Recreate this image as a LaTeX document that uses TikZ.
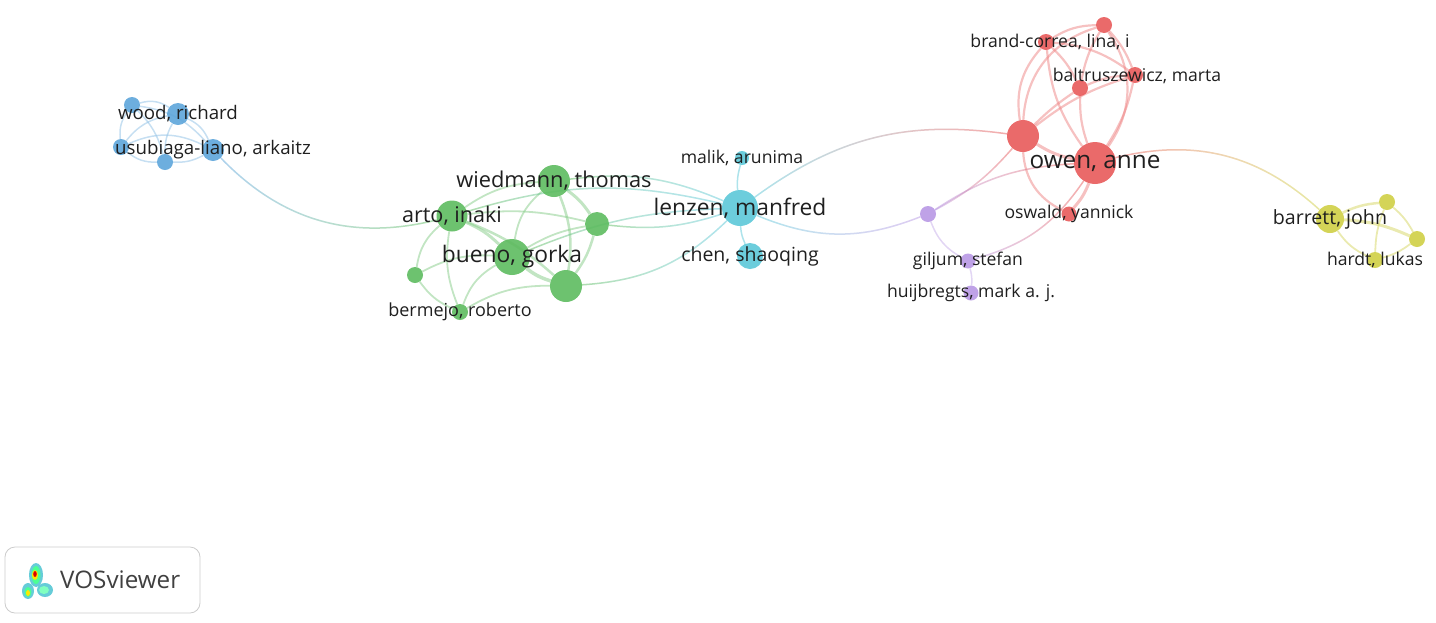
\documentclass[tikz,border=0pt]{standalone}
\usepackage{fontspec}
\setmainfont{Open Sans}
\usetikzlibrary{positioning,backgrounds,fadings}

\definecolor{cblue}{HTML}{5DA5DA}
\definecolor{cgreen}{HTML}{5DBB5F}
\definecolor{ccyan}{HTML}{5CC8D8}
\definecolor{cred}{HTML}{E85A5A}
\definecolor{cpurple}{HTML}{B898E4}
\definecolor{cyellow}{HTML}{CFCF45}

\tikzset{
  author/.style={circle, inner sep=0pt, fill opacity=0.9, draw=none},
  blueauth/.style={author, fill=cblue},
  greenauth/.style={author, fill=cgreen},
  cyanauth/.style={author, fill=ccyan},
  redauth/.style={author, fill=cred},
  purpleauth/.style={author, fill=cpurple},
  yellowauth/.style={author, fill=cyellow},
  lbl/.style={inner sep=0pt, text=black!88, font=\fontsize{17.6}{17.6}\selectfont},
  lblbig/.style={lbl, font=\fontsize{22.8}{22.8}\selectfont},
  link/.style={line width=1.5pt, opacity=0.5},
  bluelink/.style={link, draw=cblue!70},
  greenlink/.style={link, line width=1.8pt, draw=cgreen!75},
  redlink/.style={link, line width=2.2pt, draw=cred!75},
  purplelink/.style={link, draw=cpurple!80},
  yellowlink/.style={link, line width=1.8pt, draw=cyellow!85}
}

% link between two clusters: left colour fades into right colour
\newcommand{\mixlink}[5]{%
  \draw[link, draw=#4, path fading=east] (#1) to[#3] (#2);
  \draw[link, draw=#5, path fading=west] (#1) to[#3] (#2);}

\begin{document}
\begin{tikzpicture}[x=1pt, y=-1pt]
  \useasboundingbox (0,0) rectangle (1436,622);

  % Blue cluster
  \node[blueauth, minimum size=16] (b1) at (132,105) {};
  \node[blueauth, minimum size=22] (wood) at (178,114) {};
  \node[blueauth, minimum size=16] (b3) at (121,147) {};
  \node[blueauth, minimum size=16] (b4) at (165,162) {};
  \node[blueauth, minimum size=22] (usub) at (213,150) {};

  % Green cluster
  \node[greenauth, minimum size=31] (arto) at (452,216) {};
  \node[greenauth, minimum size=32] (wied) at (554,181) {};
  \node[greenauth, minimum size=24] (g3) at (597,224) {};
  \node[greenauth, minimum size=36] (bueno) at (512,257) {};
  \node[greenauth, minimum size=16] (g5) at (415,275) {};
  \node[greenauth, minimum size=32] (g6) at (566,286) {};
  \node[greenauth, minimum size=16] (berm) at (460,312) {};

  % Cyan cluster
  \node[cyanauth, minimum size=14] (malik) at (742,158) {};
  \node[cyanauth, minimum size=36] (lenzen) at (740,208) {};
  \node[cyanauth, minimum size=26] (chen) at (750,256) {};

  % Red cluster
  \node[redauth, minimum size=16] (r1) at (1104,25) {};
  \node[redauth, minimum size=16] (brand) at (1046,42) {};
  \node[redauth, minimum size=16] (balt) at (1135,75) {};
  \node[redauth, minimum size=16] (r4) at (1080,88) {};
  \node[redauth, minimum size=32] (r5) at (1023,136) {};
  \node[redauth, minimum size=42] (owen) at (1095,163) {};
  \node[redauth, minimum size=15] (oswald) at (1069,214) {};

  % Purple cluster
  \node[purpleauth, minimum size=16] (p1) at (928,214) {};
  \node[purpleauth, minimum size=15] (giljum) at (968,261) {};
  \node[purpleauth, minimum size=15] (huij) at (971,293) {};

  % Yellow cluster
  \node[yellowauth, minimum size=28] (barrett) at (1330,219) {};
  \node[yellowauth, minimum size=16] (y2) at (1387,202) {};
  \node[yellowauth, minimum size=16] (y3) at (1417,239) {};
  \node[yellowauth, minimum size=16] (hardt) at (1375,260) {};

  \begin{scope}[on background layer]
    % Blue links
    \draw[bluelink] (b1) to[bend left=25] (wood);
    \draw[bluelink] (b1) to[bend right=20] (b3);
    \draw[bluelink] (b1) to[bend left=20] (usub);
    \draw[bluelink] (b1) to[bend left=15] (b4);
    \draw[bluelink] (wood) to[bend right=20] (b3);
    \draw[bluelink] (wood) to[bend right=15] (b4);
    \draw[bluelink] (wood) to[bend left=20] (usub);
    \draw[bluelink] (b3) to[bend right=20] (b4);
    \draw[bluelink] (b3) to[bend left=25] (usub);
    \draw[bluelink] (b4) to[bend right=15] (usub);
    \mixlink{usub}{arto}{bend right=30}{cblue}{cgreen}

    % Green links
    \draw[greenlink] (arto) to[bend left=15] (wied);
    \draw[greenlink, line width=3pt] (arto) to[bend left=10] (bueno);
    \draw[greenlink] (arto) to[bend left=10] (g3);
    \draw[greenlink, line width=2.5pt] (arto) to[bend left=10] (g6);
    \draw[greenlink] (arto) to[bend right=20] (g5);
    \draw[greenlink] (arto) to[bend right=15] (berm);
    \draw[greenlink] (wied) to[bend right=20] (bueno);
    \draw[greenlink, line width=3pt] (wied) to[bend left=10] (g3);
    \draw[greenlink, line width=2.5pt] (wied) to[bend left=15] (g6);
    \draw[greenlink] (bueno) to[bend left=10] (g3);
    \draw[greenlink, line width=3.5pt] (bueno) to[bend right=10] (g6);
    \draw[greenlink] (bueno) to[bend right=15] (g5);
    \draw[greenlink] (bueno) to[bend right=20] (berm);
    \draw[greenlink, line width=2.5pt] (g3) to[bend left=10] (g6);
    \draw[greenlink] (g5) to[bend right=15] (berm);
    \draw[greenlink] (berm) to[bend left=15] (g6);

    % Green to cyan links
    \mixlink{wied}{lenzen}{bend left=15}{cgreen}{ccyan}
    \mixlink{arto}{lenzen}{bend left=15}{cgreen}{ccyan}
    \mixlink{bueno}{lenzen}{bend left=10}{cgreen}{ccyan}
    \mixlink{g3}{lenzen}{bend right=12}{cgreen}{ccyan}
    \mixlink{g6}{lenzen}{bend right=20}{cgreen}{ccyan}

    % Cyan links
    \draw[link, draw=ccyan] (lenzen) to[bend left=10] (malik);
    \draw[link, draw=ccyan] (lenzen) to[bend right=10] (chen);
    \mixlink{lenzen}{r5}{bend left=22}{ccyan}{cred}
    \mixlink{lenzen}{p1}{bend right=22}{ccyan}{cpurple}

    % Red links
    \draw[redlink, line width=3pt] (r5) to[bend right=10] (owen);
    \draw[redlink] (r5) to[bend left=25] (brand);
    \draw[redlink] (r5) to[bend left=35] (r1);
    \draw[redlink] (r5) to[bend left=10] (balt);
    \draw[redlink] (r5) to[bend left=5] (r4);
    \draw[redlink] (r5) to[bend right=30] (oswald);
    \draw[redlink] (owen) to[bend right=35] (r1);
    \draw[redlink] (owen) to[bend left=15] (brand);
    \draw[redlink] (owen) to[bend left=10] (r4);
    \draw[redlink] (owen) to[bend right=10] (balt);
    \draw[redlink, line width=3pt] (owen) to[bend left=10] (oswald);
    \draw[redlink] (brand) to[bend left=15] (r1);
    \draw[redlink] (brand) to[bend left=10] (r4);
    \draw[redlink] (brand) to[bend left=15] (balt);
    \draw[redlink] (r1) to[bend right=10] (r4);
    \draw[redlink] (r1) to[bend left=10] (balt);
    \draw[redlink] (r4) to[bend left=10] (balt);
    \mixlink{owen}{barrett}{bend left=28}{cred}{cyellow}

    % Purple links
    \mixlink{p1}{r5}{bend right=10}{cpurple}{cred}
    \mixlink{p1}{owen}{bend left=15}{cpurple}{cred}
    \draw[purplelink] (p1) to[bend right=20] (giljum);
    \draw[purplelink] (giljum) to[bend left=10] (huij);
    \mixlink{giljum}{owen}{bend right=20}{cpurple}{cred}

    % Yellow links
    \draw[yellowlink, line width=2.5pt] (barrett) to[bend left=10] (y2);
    \draw[yellowlink, line width=3pt] (barrett) to[bend left=10] (y3);
    \draw[yellowlink] (barrett) to[bend right=15] (hardt);
    \draw[yellowlink] (y2) to[bend left=10] (y3);
    \draw[yellowlink] (y2) to[bend right=10] (hardt);
    \draw[yellowlink] (y3) to[bend left=10] (hardt);
  \end{scope}

  % Labels
  \node[lbl, font=\fontsize{18.7}{18.7}\selectfont] (woodL) at (wood) {wood, richard};
  \node[lbl, font=\fontsize{18.7}{18.7}\selectfont] (usubL) at (usub) {usubiaga-liano, arkaitz};
  \node[lbl, font=\fontsize{21.6}{21.6}\selectfont] (artoL) at (arto) {arto, inaki};
  \node[lbl, font=\fontsize{21.8}{21.8}\selectfont] (wiedL) at (wied) {wiedmann, thomas};
  \node[lblbig] (buenoL) at (bueno) {bueno, gorka};
  \node[lbl, font=\fontsize{18}{18}\selectfont] (bermL) at (berm) {bermejo, roberto};
  \node[lbl] (malikL) at (malik) {malik, arunima};
  \node[lblbig] (lenzenL) at (lenzen) {lenzen, manfred};
  \node[lbl, font=\fontsize{19.5}{19.5}\selectfont] (chenL) at (chen) {chen, shaoqing};
  \node[lbl] (brandL) at (1050,42) {brand-correa, lina, i};
  \node[lbl] (baltL) at (1137,76) {baltruszewicz, marta};
  \node[lbl, font=\fontsize{24.3}{24.3}\selectfont] (owenL) at (owen) {owen, anne};
  \node[lbl] (oswaldL) at (oswald) {oswald, yannick};
  \node[lbl] (giljumL) at (giljum) {giljum, stefan};
  \node[lbl] (huijL) at (huij) {huijbregts, mark a. j.};
  \node[lbl, font=\fontsize{19.6}{19.6}\selectfont] (barrettL) at (barrett) {barrett, john};
  \node[lbl] (hardtL) at (hardt) {hardt, lukas};

  % Logo
  \node[draw=black!20, line width=0.8pt, rounded corners=10pt, minimum width=195, minimum height=66] (logo) at (102.5,580) {};
  \fill[cyan!75!green!60] (36,575) ellipse (7 and 12);
  \fill[cyan!75!green!60] (28,591) ellipse (6 and 8);
  \fill[cyan!75!green!60] (45,590) ellipse (8 and 7);
  \fill[green!60!cyan!70] (36,575) ellipse (4.5 and 9);
  \fill[green!60!cyan!70] (28,592) ellipse (3.5 and 5);
  \fill[green!50!cyan!50] (44,590) ellipse (5 and 4);
  \fill[yellow!90!orange] (35,575) ellipse (3 and 5);
  \fill[yellow!90!orange] (28,593) ellipse (2 and 3);
  \fill[red!85!black] (35,574) ellipse (1.8 and 3);
  \node[inner sep=0pt, text=black!75, font=\fontsize{24.2}{24.2}\selectfont, anchor=west] (logoL) at (60,580) {VOSviewer};
\end{tikzpicture}
\end{document}
